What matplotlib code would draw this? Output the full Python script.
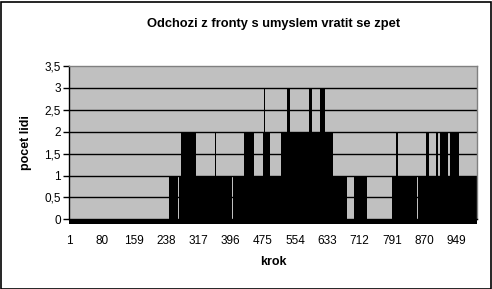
import numpy as np
import matplotlib.pyplot as plt
from matplotlib.patches import Rectangle

plt.rcParams['font.family'] = ['Liberation Sans', 'DejaVu Sans']

# number of people per step, stored as runs of equal values
run_values = [0, 1, 0, 1, 2, 1, 2, 1, 0, 1, 2, 1, 2, 1, 2, 3, 2, 1, 2, 3, 2,
              3, 2, 3, 2, 1, 0, 1, 0, 1, 2, 1, 0, 1, 2, 1, 2, 1, 2, 1, 2, 1]
run_lengths = [244, 22, 4, 4, 37, 46, 2, 40, 2, 14, 2, 11, 25, 22, 3, 2, 11,
               28, 15, 7, 46, 8, 19, 12, 20, 35, 17, 32, 61, 10, 4, 48, 2, 20,
               7, 17, 4, 6, 19, 4, 22, 46]
steps = np.arange(1, sum(run_lengths) + 1)
people = np.repeat(run_values, run_lengths)

tick_steps = [1, 80, 159, 238, 317, 396, 475, 554, 633, 712, 791, 870, 949]
y_ticks = [0, 0.5, 1, 1.5, 2, 2.5, 3, 3.5]
y_labels = ['0', '0,5', '1', '1,5', '2', '2,5', '3', '3,5']

W, H = 492, 289
fig = plt.figure(figsize=(W / 100, H / 100), dpi=100)
fig.patch.set_facecolor('white')
fig.add_artist(Rectangle((0.5 / W, 0.5 / H), 1 - 2 / W, 1 - 2 / H,
                         transform=fig.transFigure, fill=False,
                         edgecolor='black', linewidth=1.2))

left, right, top, bottom = 69.3, 477.3, 66.0, 219.3
ax = fig.add_axes([left / W, 1 - bottom / H, (right - left) / W, (bottom - top) / H])
ax.set_facecolor('#c0c0c0')

for y in y_ticks[1:-1]:
    ax.axhline(y, color='black', linewidth=1.0, zorder=1)

ax.bar(steps, people, width=1.0, color='black', edgecolor='none',
       linewidth=0, zorder=2)

ax.set_xlim(0.5, len(steps) + 0.5)
ax.set_ylim(0, 3.5)

ax.set_yticks(y_ticks)
ax.set_yticklabels(y_labels)
ax.set_xticks(tick_steps)
ax.set_xticklabels([str(t) for t in tick_steps])
ax.tick_params(axis='y', direction='out', length=4, width=1, labelsize=8.5, pad=2)
ax.tick_params(axis='x', length=0, labelsize=8.5, pad=11)

for side in ['top', 'right']:
    ax.spines[side].set_color('#808080')
    ax.spines[side].set_linewidth(1.0)
ax.spines['left'].set_color('black')
ax.spines['bottom'].set_color('black')
ax.spines['left'].set_linewidth(1.0)
ax.spines['bottom'].set_linewidth(1.0)

# dense category tick marks under the axis
ax.add_patch(Rectangle((0, -4.5 / (bottom - top)), 1, 4.5 / (bottom - top),
                       transform=ax.transAxes, clip_on=False,
                       facecolor='black', edgecolor='none'))

ax.set_xlabel('krok', fontsize=9, fontweight='bold', labelpad=7)
ax.set_ylabel('pocet lidi', fontsize=9, fontweight='bold', labelpad=9)
fig.text((left + right) / 2 / W, 1 - 24 / H,
         'Odchozi z fronty s umyslem vratit se zpet',
         ha='center', va='center', fontsize=9.3, fontweight='bold')

fig.savefig('out.png', dpi=100)
